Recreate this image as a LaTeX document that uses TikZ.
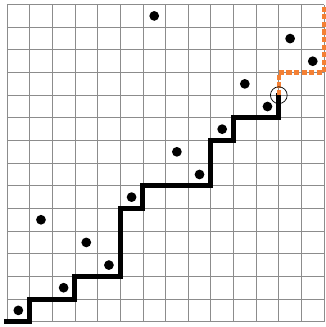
\documentclass[tikz,border=0pt]{standalone}
\usepackage{xcolor}
\usepackage{tikz}
\usetikzlibrary{arrows.meta}
\definecolor{pathorange}{RGB}{244,128,52}

\begin{document}
\begin{tikzpicture}[x=1cm,y=1cm]
\useasboundingbox(-0.309,-0.234)rectangle(14.04,14.203);
\draw[black!45,line width=1pt,step=1](0,0)grid(14,14);
\draw[line width=6.3pt,line cap=rect](0,0)--(1,0)--(1,1)--(3,1)--(3,2)--(5,2)--(5,5)--(6,5)--(6,6)--(9,6)--(9,8)--(10,8)--(10,9)--(12,9)--coordinate[pos=1](top)(12,10);
\draw[pathorange,line width=5.2pt,dash pattern=on 6.5pt off 3pt](top)--(12,11)--(14,11)--(14,14);
\foreach \i/\j in {0/0,1/4,2/1,3/3,4/2,5/5,6/13,7/7,8/6,9/8,10/10,11/9,12/12,13/11}
  \fill(\i+0.5,\j+0.5)circle(0.215);
\draw[line width=0.9pt](top)circle(0.37);
\end{tikzpicture}
\end{document}
